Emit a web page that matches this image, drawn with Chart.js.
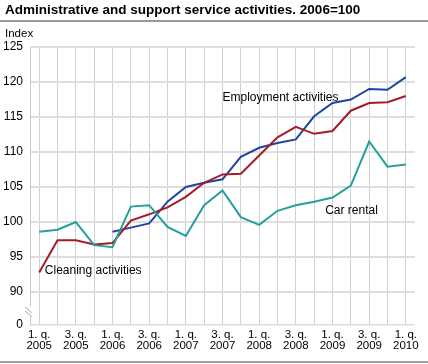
<!DOCTYPE html>
<html>
<head>
<meta charset="utf-8">
<script src="https://cdn.jsdelivr.net/npm/chart.js@4.4.1/dist/chart.umd.min.js"></script>
<style>
  html, body { margin: 0; padding: 0; background: #fff; }
  #wrap { position: relative; width: 428px; height: 364px; overflow: hidden; font-family: Arial, "Liberation Sans", sans-serif; }
  #title { position: absolute; left: 5px; top: 2px; font-size: 13.5px; font-weight: bold; color: #000; white-space: nowrap; }
  #rule1 { position: absolute; left: 0; top: 20px; width: 428px; height: 2px; background: #9a9a9a; }
  #rule2 { position: absolute; left: 0; top: 361px; width: 428px; height: 2px; background: #9aa39a; }
  #ylab { position: absolute; left: 5px; top: 27px; font-size: 11.5px; color: #000; }
  canvas { position: absolute; left: 0; top: 0; }
</style>
</head>
<body>
<div id="wrap">
  <canvas id="c" width="428" height="364"></canvas>
  <div id="title">Administrative and support service activities. 2006=100</div>
  <div id="rule1"></div>
  <div id="ylab">Index</div>
  <div id="rule2"></div>
</div>
<script>
const quarters = ["1. q. 2005","2. q. 2005","3. q. 2005","4. q. 2005",
  "1. q. 2006","2. q. 2006","3. q. 2006","4. q. 2006",
  "1. q. 2007","2. q. 2007","3. q. 2007","4. q. 2007",
  "1. q. 2008","2. q. 2008","3. q. 2008","4. q. 2008",
  "1. q. 2009","2. q. 2009","3. q. 2009","4. q. 2009",
  "1. q. 2010"];
const employment = [null,null,null,null,
  98.6,99.2,99.8,102.9,
  105.0,105.6,106.1,109.3,
  110.6,111.3,111.8,115.1,
  117.0,117.5,119.0,118.9,
  120.7];
const cleaning = [92.8,97.4,97.4,96.8,
  97.0,100.2,101.1,102.1,
  103.6,105.6,106.8,106.9,
  109.5,112.1,113.6,112.6,
  113.0,115.9,117.0,117.1,
  118.0];
const carRental = [98.6,98.9,100.0,96.7,
  96.4,102.2,102.4,99.3,
  98.0,102.4,104.5,100.7,
  99.6,101.6,102.4,102.9,
  103.5,105.2,111.5,107.9,
  108.2];
const yTicks = [90,95,100,105,110,115,120,125];
const seriesLabels = [
  {text: "Employment activities", q: 10.0, v: 117.7},
  {text: "Cleaning activities", q: 0.31, v: 93.0},
  {text: "Car rental", q: 15.6, v: 101.6}
];

const Y_BREAK_ZERO = 85.29; // value position where the "0" tick sits below the axis break

const breakPlugin = {
  id: 'extras',
  afterDraw(chart) {
    const ctx = chart.ctx;
    const x = chart.scales.x, y = chart.scales.y;
    const left = chart.chartArea.left;
    ctx.save();
    ctx.fillStyle = '#fff';
    ctx.fillRect(left - 4, 306, 7, 11);
    ctx.strokeStyle = '#c8c8c8';
    ctx.lineWidth = 1.2;
    ctx.beginPath();
    ctx.moveTo(left - 5, 307); ctx.lineTo(left + 2, 313);
    ctx.moveTo(left - 5, 311); ctx.lineTo(left + 2, 317);
    ctx.stroke();
    ctx.fillStyle = '#000';
    ctx.font = '12px Arial, "Liberation Sans", sans-serif';
    ctx.textBaseline = 'middle';
    ctx.textAlign = 'left';
    const qToPx = q => {
      const i = Math.floor(q);
      const f = q - i;
      const a = x.getPixelForValue(i);
      const b = x.getPixelForValue(Math.min(i + 1, quarters.length - 1));
      return a + (b - a) * f;
    };
    seriesLabels.forEach(l => {
      ctx.fillText(l.text, qToPx(l.q), y.getPixelForValue(l.v));
    });
    ctx.restore();
  }
};

new Chart(document.getElementById('c'), {
  type: 'line',
  data: {
    labels: quarters,
    datasets: [
      {label: 'Car rental', data: carRental, borderColor: '#26a09c', borderWidth: 2, pointRadius: 0, tension: 0, fill: false},
      {label: 'Cleaning activities', data: cleaning, borderColor: '#a61c26', borderWidth: 2, pointRadius: 0, tension: 0, fill: false},
      {label: 'Employment activities', data: employment, borderColor: '#1f45a0', borderWidth: 2, pointRadius: 0, tension: 0, fill: false, spanGaps: false}
    ]
  },
  options: {
    responsive: false,
    animation: false,
    devicePixelRatio: 1,
    layout: {padding: {left: 0, right: 13, top: 47, bottom: 0}},
    plugins: {legend: {display: false}, tooltip: {enabled: false}, title: {display: false}},
    scales: {
      x: {
        type: 'category',
        offset: true,
        grid: {offset: false, color: '#d0d0d0', lineWidth: 1, drawTicks: false, drawOnChartArea: true},
        border: {display: false},
        ticks: {
          autoSkip: false, maxRotation: 0, minRotation: 0, padding: 4,
          color: '#000', font: {family: 'Arial, "Liberation Sans", sans-serif', size: 11.5, lineHeight: 1.0},
          callback: function(value, index) {
            if (index % 2 !== 0) return '';
            const s = quarters[index];
            return [s.slice(0, 5), s.slice(6)];
          }
        },
        afterFit(scale) { scale.height = 39; }
      },
      y: {
        type: 'linear',
        min: Y_BREAK_ZERO,
        max: 125,
        afterBuildTicks(scale) {
          scale.ticks = [{value: Y_BREAK_ZERO}].concat(yTicks.map(v => ({value: v})));
        },
        grid: {
          color: '#dedede',
          lineWidth: ctx => (ctx.tick && ctx.tick.value < 89 ? 1.5 : 2),
          drawTicks: false
        },
        border: {display: true, color: '#c8c8c8', width: 1},
        ticks: {
          padding: 7, color: '#000',
          font: {family: 'Arial, "Liberation Sans", sans-serif', size: 12},
          callback: v => (v < 89 ? '0' : String(v))
        },
        afterFit(scale) { scale.width = 30; }
      }
    }
  },
  plugins: [breakPlugin]
});
</script>
</body>
</html>
